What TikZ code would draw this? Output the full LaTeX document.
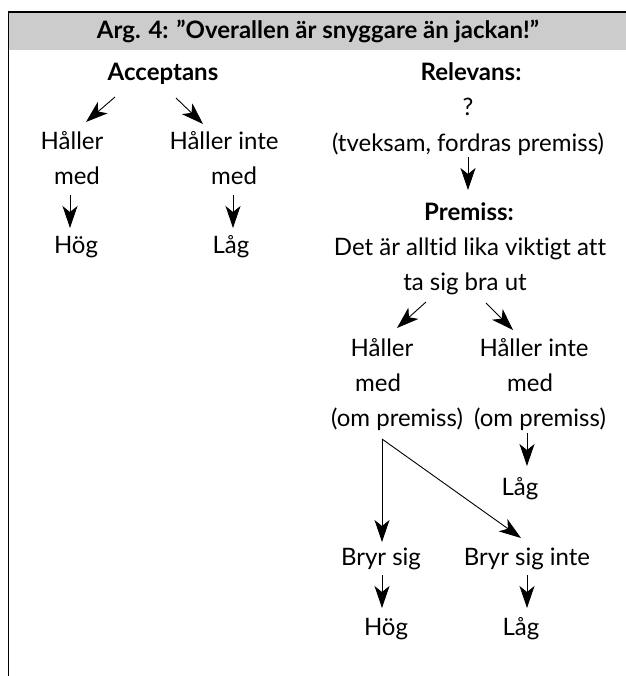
\documentclass[tikz,border=0pt]{standalone}
\usepackage{fontspec}
\setmainfont[Ligatures=NoCommon]{Lato}
\usetikzlibrary{arrows.meta}
\definecolor{band}{HTML}{CCCCCC}
\begin{document}
\begin{tikzpicture}[x=1bp,y=-1bp,
  txt/.style={anchor=base, inner sep=0pt, font=\fontsize{24bp}{28bp}\selectfont},
  bld/.style={anchor=base, inner sep=0pt, font=\fontsize{24bp}{28bp}\selectfont\bfseries},
  arr/.style={-{Stealth[length=22bp,width=15bp,inset=6bp]}, line width=0.9bp}]
\useasboundingbox (0,0) rectangle (626,676);
\fill[band] (8,12) rectangle (626,50);
\draw[line width=1.6bp] (8.5,676) -- (8.5,12) -- (626,12);
\node[bld] (title) at (318,39) {Arg. 4: ”Overallen är snyggare än jackan!”};
% left column
\node[bld] (acc) at (163,81) {Acceptans};
\node[txt] (lh1) at (72,149) {Håller};
\node[txt] (lh2) at (77,184) {med};
\node[txt] (lhog) at (76,253) {Hög};
\node[txt] (li1) at (224,149) {Håller inte};
\node[txt] (li2) at (234,184) {med};
\node[txt] (llag) at (231,253) {Låg};
% right column
\node[bld] (rel) at (471,81) {Relevans:};
\node[txt] (q) at (468,116) {?};
\node[txt] (tv) at (468,151) {(tveksam, fordras premiss)};
\node[bld] (prem) at (469,220) {Premiss:};
\node[txt] (det1) at (470,255) {Det är alltid lika viktigt att};
\node[txt] (det2) at (465,290) {ta sig bra ut};
\node[txt] (rh1) at (382,356) {Håller};
\node[txt] (rh2) at (378,391) {med};
\node[txt] (rh3) at (397,426) {(om premiss)};
\node[txt] (ri1) at (534,356) {Håller inte};
\node[txt] (ri2) at (530,391) {med};
\node[txt] (ri3) at (540,426) {(om premiss)};
\node[txt] (rlag) at (520,495) {Låg};
\node[txt] (bs) at (381,565) {Bryr sig};
\node[txt] (bsi) at (527,565) {Bryr sig inte};
\node[txt] (rhog) at (386,635) {Hög};
\node[txt] (rlag2) at (521,635) {Låg};
% arrow end points
\coordinate (a1s) at (115,97);  \coordinate (a1e) at (86,122);
\coordinate (a2s) at (176,98);  \coordinate (a2e) at (203,124);
\coordinate (a3s) at (70,195);  \coordinate (a3e) at (70,228);
\coordinate (a4s) at (233,195); \coordinate (a4e) at (233,228);
\coordinate (b1s) at (468,157); \coordinate (b1e) at (468,190);
\coordinate (b2s) at (426,302); \coordinate (b2e) at (397,328);
\coordinate (b3s) at (486,303); \coordinate (b3e) at (513,330);
\coordinate (b4s) at (527,433); \coordinate (b4e) at (527,466);
\coordinate (fork) at (382,439);
\coordinate (b5e) at (382,542);
\coordinate (b6e) at (521,538);
\coordinate (b7s) at (382,575); \coordinate (b7e) at (382,608);
\coordinate (b8s) at (527,575); \coordinate (b8e) at (527,608);
\draw[arr] (a1s) -- (a1e);
\draw[arr] (a2s) -- (a2e);
\draw[arr] (a3s) -- (a3e);
\draw[arr] (a4s) -- (a4e);
\draw[arr] (b1s) -- (b1e);
\draw[arr] (b2s) -- (b2e);
\draw[arr] (b3s) -- (b3e);
\draw[arr] (b4s) -- (b4e);
\draw[arr] (fork) -- (b5e);
\draw[arr] (fork) -- (b6e);
\draw[arr] (b7s) -- (b7e);
\draw[arr] (b8s) -- (b8e);
\end{tikzpicture}
\end{document}
